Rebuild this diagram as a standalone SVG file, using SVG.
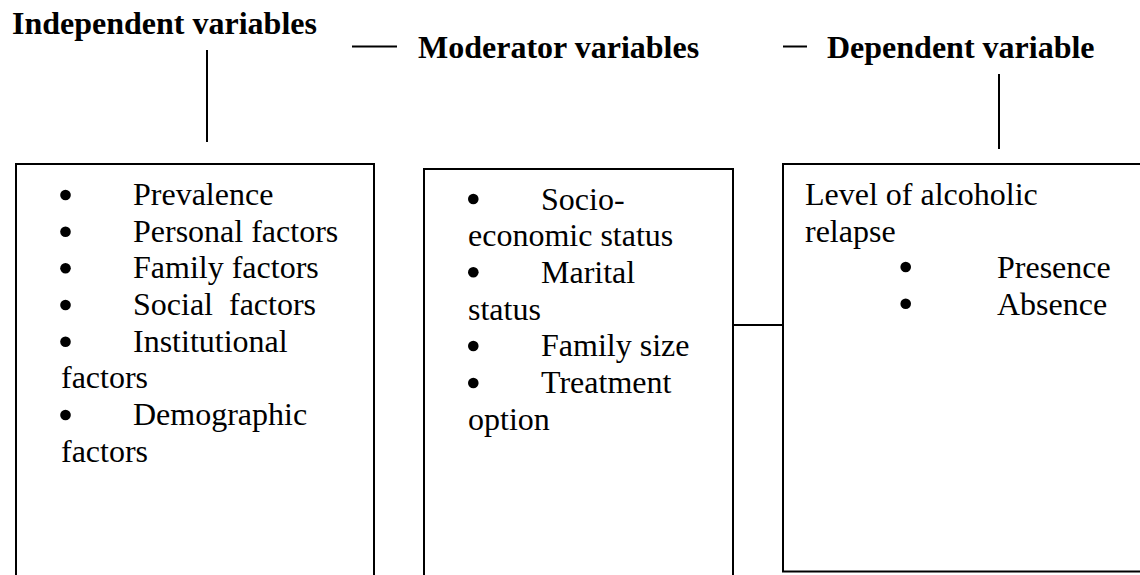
<svg xmlns="http://www.w3.org/2000/svg" width="1140" height="575" viewBox="0 0 1140 575">
<style>
text{font-family:'Liberation Serif','Tinos','Times New Roman','Times','DejaVu Serif',serif;font-size:32px;fill:#000}
.h{font-weight:bold}
.box{fill:#fff;stroke:#000;stroke-width:2}
.ln{stroke:#000;stroke-width:2;fill:none}
.b{fill:#000}
</style>
<rect width="1140" height="575" fill="#fff"/>
<g id="title-independent"><text class="h" x="12" y="34">Independent variables</text></g>
<g id="title-moderator"><text class="h" x="418" y="58">Moderator variables</text></g>
<g id="title-dependent"><text class="h" x="827" y="58">Dependent variable</text></g>
<g id="connectors">
<line class="ln" x1="207" y1="50" x2="207" y2="142"/>
<line class="ln" x1="352" y1="46.5" x2="397" y2="46.5"/>
<line class="ln" x1="783" y1="46.5" x2="807" y2="46.5"/>
<line class="ln" x1="999" y1="74" x2="999" y2="149"/>
<line class="ln" x1="734" y1="325" x2="783" y2="325"/>
</g>
<g id="independent-box">
<rect class="box" x="16" y="164" width="358" height="430"/>
<circle class="b" cx="65.5" cy="195" r="5.3"/>
<circle class="b" cx="65.5" cy="231.7" r="5.3"/>
<circle class="b" cx="65.5" cy="268.3" r="5.3"/>
<circle class="b" cx="65.5" cy="305" r="5.3"/>
<circle class="b" cx="65.5" cy="341.7" r="5.3"/>
<circle class="b" cx="65.5" cy="415" r="5.3"/>
<text x="133" y="205">Prevalence</text>
<text x="133" y="241.7">Personal factors</text>
<text x="133" y="278.3">Family factors</text>
<text x="133" y="315" xml:space="preserve">Social  factors</text>
<text x="133" y="351.7">Institutional</text>
<text x="61" y="388.3">factors</text>
<text x="133" y="425">Demographic</text>
<text x="61" y="461.7">factors</text>
</g>
<g id="moderator-box">
<rect class="box" x="424" y="169" width="309" height="430"/>
<circle class="b" cx="473.3" cy="199" r="5.3"/>
<circle class="b" cx="473.3" cy="272.3" r="5.3"/>
<circle class="b" cx="473.3" cy="346" r="5.3"/>
<circle class="b" cx="473.3" cy="383" r="5.3"/>
<text x="541" y="209.7">Socio-</text>
<text x="468" y="246.3">economic status</text>
<text x="541" y="283">Marital</text>
<text x="468" y="319.7">status</text>
<text x="541" y="356.3">Family size</text>
<text x="541" y="393">Treatment</text>
<text x="468" y="429.7">option</text>
</g>
<g id="dependent-box">
<rect class="box" x="783" y="164" width="370" height="407.5"/>
<text x="805" y="205">Level of alcoholic</text>
<text x="805" y="241.7">relapse</text>
<circle class="b" cx="905.7" cy="267" r="5.3"/>
<circle class="b" cx="905.7" cy="303.7" r="5.3"/>
<text x="997" y="278.3">Presence</text>
<text x="997" y="315">Absence</text>
</g>
</svg>
